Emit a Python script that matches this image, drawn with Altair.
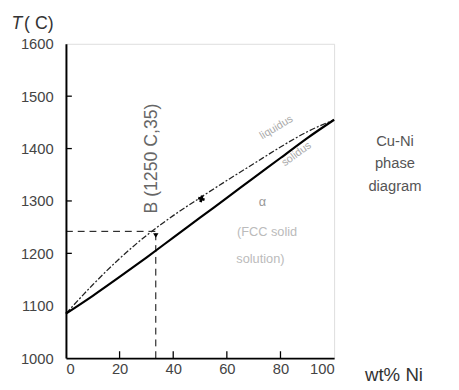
import altair as alt
import pandas as pd

# ---- data ----
wt = [0, 10, 20, 30, 40, 50, 60, 70, 80, 90, 100]
liquidus = [1085, 1140, 1190, 1234, 1272, 1306, 1339, 1371, 1403, 1432, 1455]
solidus = [1085, 1119, 1155, 1192, 1230, 1268, 1306, 1344, 1382, 1420, 1455]

x_ticks = [0, 20, 40, 60, 80, 100]
y_ticks = [1000, 1100, 1200, 1300, 1400, 1500, 1600]
inner_x_ticks = [20, 40, 60, 80]
inner_y_ticks = [1200, 1300, 1400, 1500]

point_B_wt = 33.5
point_B_T = 1242
cross_wt, cross_T = 50.5, 1304

W, H = 273, 320

liq_df = pd.DataFrame({"wt": wt, "T": liquidus})
sol_df = pd.DataFrame({"wt": wt, "T": solidus})

xs = alt.Scale(domain=[0, 100], nice=False, zero=False)
ys = alt.Scale(domain=[1000, 1600], nice=False, zero=False)

xaxis = alt.Axis(values=x_ticks, grid=False, ticks=False, domainColor="black", domainWidth=2,
                 labelColor="#444", labelFont="Liberation Sans", labelFontSize=15,
                 labelPadding=4, title=None, format="d")
yaxis = alt.Axis(values=y_ticks, grid=False, ticks=False, domainColor="black", domainWidth=2,
                 labelColor="#444", labelFont="Liberation Sans", labelFontSize=15,
                 labelPadding=13, title=None, format="d")


def X(f="wt"):
    return alt.X(f, type="quantitative", scale=xs, axis=xaxis, title=None)


def Y(f="T"):
    return alt.Y(f, type="quantitative", scale=ys, axis=yaxis, title=None)


liq = alt.Chart(liq_df).mark_line(color="#222", strokeWidth=1.3, strokeDash=[6, 2, 2, 2],
                                  interpolate="monotone").encode(x=X(), y=Y())
sol = alt.Chart(sol_df).mark_line(color="black", strokeWidth=2.2,
                                  interpolate="monotone").encode(x=X(), y=Y())

# dashed guide lines for point B
hdash = alt.Chart(pd.DataFrame({"x0": [0], "x1": [point_B_wt], "T": [point_B_T]})).mark_rule(
    color="black", strokeWidth=1, strokeDash=[7, 5]).encode(x=X("x0"), x2="x1:Q", y=Y())
vdash = alt.Chart(pd.DataFrame({"wt": [point_B_wt], "t0": [1000], "t1": [point_B_T]})).mark_rule(
    color="black", strokeWidth=1, strokeDash=[7, 5]).encode(x=X(), y=Y("t0"), y2="t1:Q")

tri = alt.Chart(pd.DataFrame({"wt": [point_B_wt], "T": [point_B_T - 8]})).mark_point(
    shape="triangle-down", filled=True, color="black", size=30, opacity=1).encode(x=X(), y=Y())
cross = alt.Chart(pd.DataFrame({"wt": [cross_wt], "T": [cross_T]})).mark_point(
    shape="cross", filled=True, color="black", size=45, angle=15, opacity=1).encode(x=X(), y=Y())

# inward tick marks
xt = alt.Chart(pd.DataFrame({"wt": inner_x_ticks})).mark_rule(color="black", strokeWidth=1.3).encode(
    x=X(), y=alt.value(H), y2=alt.value(H - 7))
yt = alt.Chart(pd.DataFrame({"T": inner_y_ticks})).mark_rule(color="black", strokeWidth=1.3).encode(
    y=Y(), x=alt.value(0), x2=alt.value(6))


def txt(items, **kw):
    df = pd.DataFrame(items, columns=["wt", "T", "label"])
    base = dict(font="Liberation Sans", align="center", baseline="middle")
    base.update(kw)
    return alt.Chart(df).mark_text(**base).encode(x=X(), y=Y(), text="label:N")


t_T = txt([(-18.3, 1637, "T")], fontSize=18, fontStyle="italic", color="#333")
t_C = txt([(-15.6, 1637, "( C)")], fontSize=18, color="#333", align="left")
t_wt = txt([(111.5, 968, "wt% Ni")], fontSize=19, color="#333", align="left")
t_side = txt([(122.7, 1415, "Cu-Ni"), (122.7, 1372, "phase"), (122.7, 1329, "diagram")],
             fontSize=15, color="#555")
t_liq = txt([(78.5, 1440, "liquidus")], fontSize=11, color="#aaa", angle=329)
t_sol = txt([(86, 1389, "solidus")], fontSize=11, color="#aaa", angle=324)
t_alpha = txt([(73.3, 1297, "α")], fontSize=13, color="#999")
t_fcc = txt([(75, 1241, "(FCC solid"), (72.5, 1189, "solution)")], fontSize=13, color="#bbb")
t_B = txt([(32.2, 1381, "B (1250 C,35)")], fontSize=18, color="#666", angle=270)

chart = alt.layer(
    hdash, vdash, xt, yt, liq, sol, tri, cross,
    t_T, t_C, t_wt, t_side, t_liq, t_sol, t_alpha, t_fcc, t_B,
).properties(
    width=W, height=H,
    autosize=alt.AutoSizeParams(type="none"),
    padding={"left": 59, "top": 33, "right": 119, "bottom": 28},
).configure_view(stroke="black", strokeWidth=1.5).configure(background="white")

chart.save("out.html", embed_options={"renderer": "svg", "actions": False})
